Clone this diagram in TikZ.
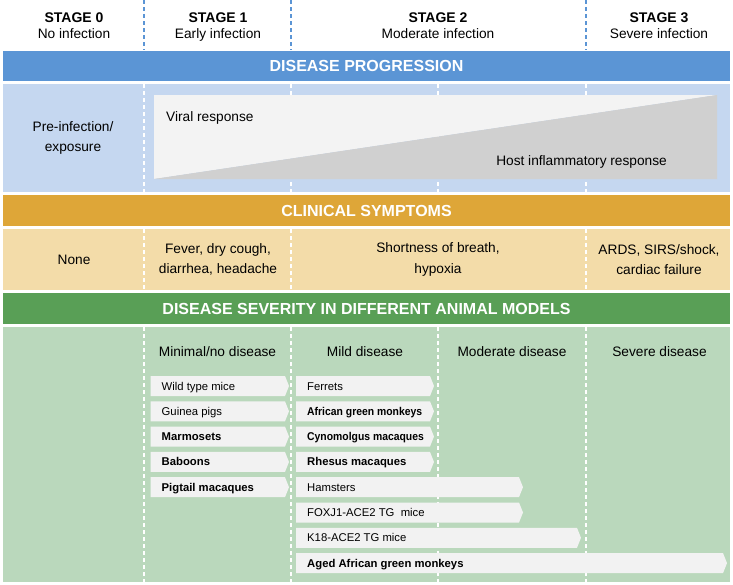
\documentclass[tikz,border=0pt]{standalone}
\usepackage{fontspec}
\setmainfont{Liberation Sans}
\definecolor{bandblue}{RGB}{91,149,213}
\definecolor{lightblue}{RGB}{197,215,240}
\definecolor{bandorange}{RGB}{222,166,56}
\definecolor{lightorange}{RGB}{243,220,169}
\definecolor{bandgreen}{RGB}{89,159,86}
\definecolor{lightgreen}{RGB}{186,216,188}
\definecolor{barfill}{RGB}{242,242,242}
\definecolor{trigray}{RGB}{208,208,208}
\definecolor{trilight}{RGB}{243,243,243}
\newcommand\animalbar[5]{%
  \fill[barfill] (#2,#4-10) -- (#3-4,#4-10) -- (#3,#4) -- (#3-4,#4+10) -- (#2,#4+10) -- cycle;
  \node[bartext] (#1) at (#2+11,#4+4) {#5};}
\newcommand\narrowbold{\bfseries\addfontfeature{FakeStretch=0.92}}
\begin{document}
\begin{tikzpicture}[x=1pt,y=-1pt,
  txt/.style={inner sep=0pt, font=\fontsize{13.7}{20.5}\selectfont, align=center},
  stagehead/.style={txt, anchor=base, font=\fontsize{14}{16}\selectfont\bfseries},
  stagesub/.style={txt, anchor=base},
  bandtitle/.style={inner sep=0pt, text=white, font=\fontsize{16}{18}\selectfont\bfseries},
  bartext/.style={inner sep=0pt, anchor=base west, font=\fontsize{11.3}{13}\selectfont},
  whitedash/.style={white, line width=1.8pt, dash pattern=on 4pt off 3pt},
  bluedash/.style={bandblue, line width=1.6pt, dash pattern=on 4pt off 3pt}]
\useasboundingbox (0,0) rectangle (733,584);
\fill[white] (0,0) rectangle (733,584);

% header
\foreach \xx in {144,291,586} \draw[bluedash] (\xx,0) -- (\xx,50);
\node[stagehead] (s0) at (74,22.5) {STAGE 0};
\node[stagesub] (s0b) at (74,38.5) {No infection};
\node[stagehead] (s1) at (218,22.5) {STAGE 1};
\node[stagesub] (s1b) at (218,38.5) {Early infection};
\node[stagehead] (s2) at (438,22.5) {STAGE 2};
\node[stagesub] (s2b) at (438,38.5) {Moderate infection};
\node[stagehead] (s3) at (659,22.5) {STAGE 3};
\node[stagesub] (s3b) at (659,38.5) {Severe infection};

% disease progression
\fill[bandblue] (3,51) rectangle (730,81);
\node[bandtitle] (dp) at (366.5,66) {DISEASE PROGRESSION};
\fill[lightblue] (3,84) rectangle (730,192);
\foreach \xx in {144,291,438,586} \draw[whitedash] (\xx,84) -- (\xx,192);
\fill[trilight] (154,95) -- (717,95) -- (154,179) -- cycle;
\fill[trigray] (154,179) -- (717,95) -- (717,179) -- cycle;
\node[txt] (pre) at (73,138) {Pre-infection/\\exposure};
\node[txt, anchor=base west] (viral) at (166,121) {Viral response};
\node[txt, anchor=base east] (host) at (667,165) {Host inflammatory response};

% clinical symptoms
\fill[bandorange] (3,195) rectangle (730,226);
\node[bandtitle] (cs) at (366.5,210.5) {CLINICAL SYMPTOMS};
\fill[lightorange] (3,229) rectangle (730,290);
\foreach \xx in {144,291,586} \draw[whitedash] (\xx,229) -- (\xx,290);
\node[txt] (none) at (74,259.5) {None};
\node[txt] (early) at (218,259.5) {Fever, dry cough,\\diarrhea, headache};
\node[txt] (mod) at (438,259.5) {Shortness of breath,\\hypoxia};
\node[txt] (sev) at (659,259.5) {ARDS, SIRS/shock,\\cardiac failure};

% animal models
\fill[bandgreen] (3,293) rectangle (730,324);
\node[bandtitle] (ds) at (366.5,308.5) {DISEASE SEVERITY IN DIFFERENT ANIMAL MODELS};
\fill[lightgreen] (3,327) rectangle (730,582);
\foreach \xx in {144,291,438,586} \draw[whitedash] (\xx,327) -- (\xx,582);
\node[txt, anchor=base] (cmin) at (217.5,356.5) {Minimal/no disease};
\node[txt, anchor=base] (cmild) at (365,356.5) {Mild disease};
\node[txt, anchor=base] (cmod) at (512,356.5) {Moderate disease};
\node[txt, anchor=base] (csev) at (659.5,356.5) {Severe disease};

\animalbar{wtm}{150.5}{289}{386}{Wild type mice}
\animalbar{gp}{150.5}{289}{411.3}{Guinea pigs}
\animalbar{mar}{150.5}{289}{436.6}{\bfseries Marmosets}
\animalbar{bab}{150.5}{289}{461.9}{\bfseries Baboons}
\animalbar{pig}{150.5}{289}{487.2}{\bfseries Pigtail macaques}

\animalbar{fer}{296}{434}{386}{Ferrets}
\animalbar{agm}{296}{434}{411.3}{\narrowbold African green monkeys}
\animalbar{cyn}{296}{434}{436.6}{\narrowbold Cynomolgus macaques}
\animalbar{rhe}{296}{434}{461.9}{\bfseries Rhesus macaques}
\animalbar{ham}{296}{523}{487.2}{Hamsters}
\animalbar{fox}{296}{523}{512.5}{FOXJ1-ACE2 TG\ \ mice}
\animalbar{k18}{296}{581}{537.8}{K18-ACE2 TG mice}
\animalbar{aged}{296}{727}{563.1}{\bfseries Aged African green monkeys}
\end{tikzpicture}
\end{document}
